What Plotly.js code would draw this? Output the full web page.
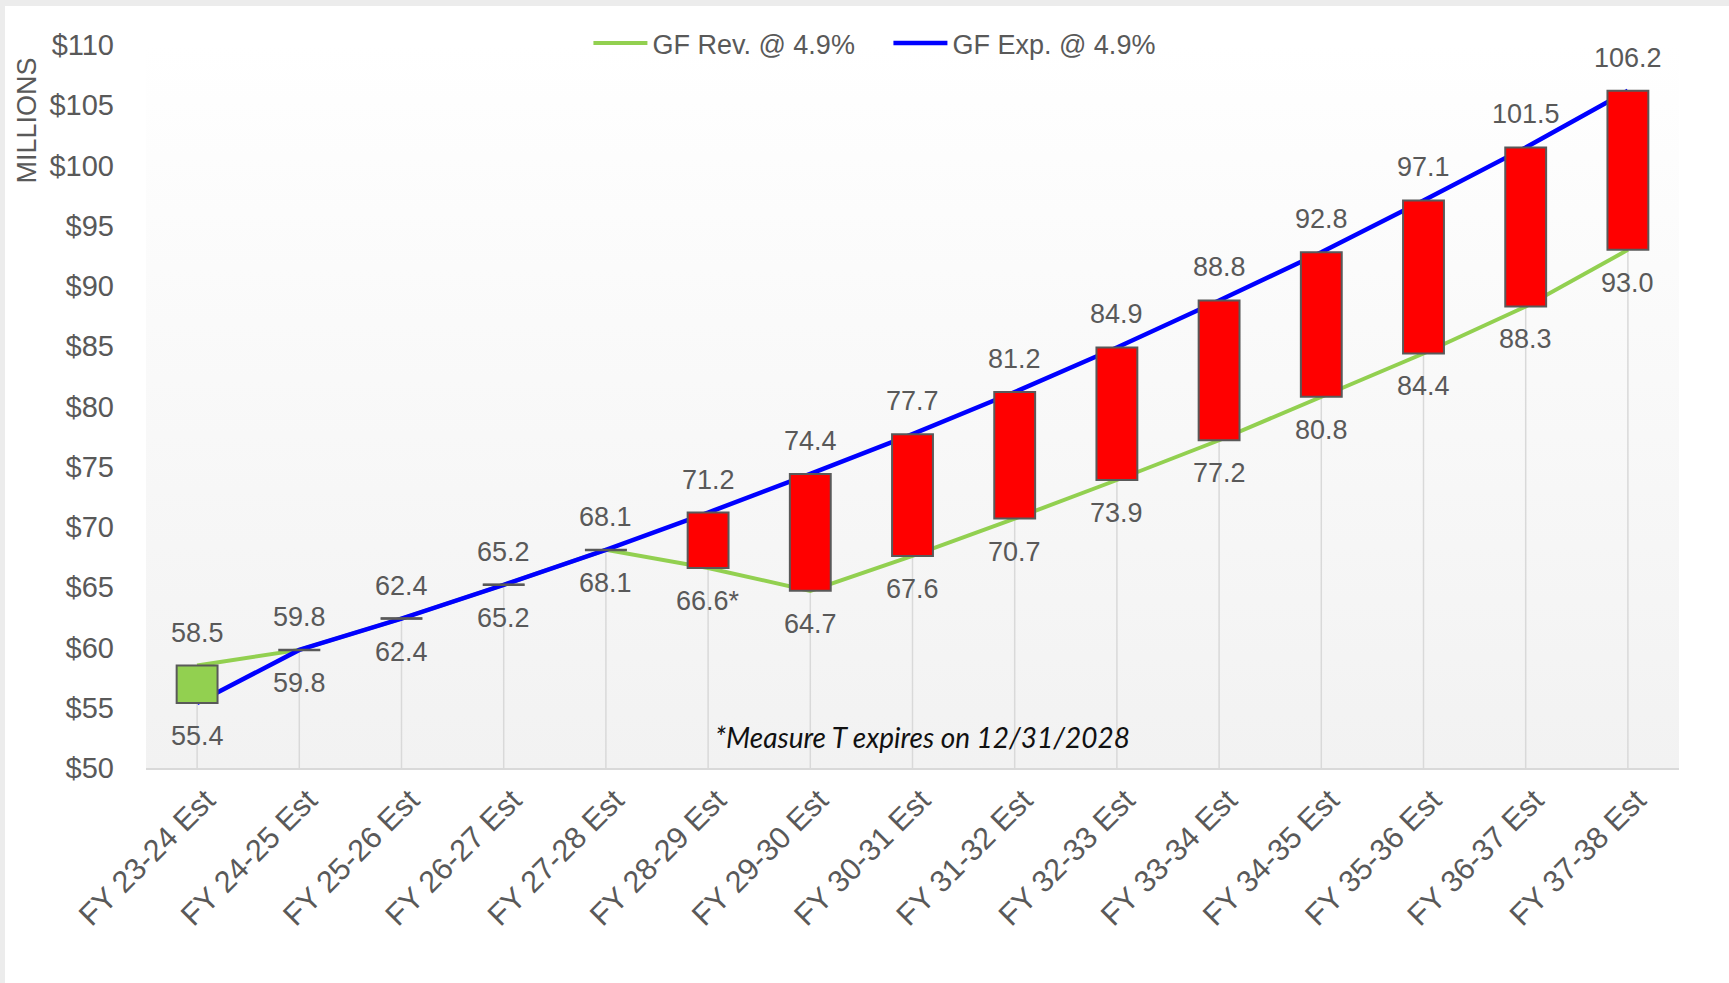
<!DOCTYPE html>
<html><head><meta charset="utf-8">
<script src="https://cdn.plot.ly/plotly-3.0.1.min.js"></script>
<style>
html,body{margin:0;padding:0;background:#ececec;width:1729px;height:983px;overflow:hidden}
#chart{position:absolute;left:5px;top:6px;width:1724px;height:977px;background:#ffffff}
</style>
</head><body><div id="chart"></div>
<script>
const categories = ['FY 23-24 Est','FY 24-25 Est','FY 25-26 Est','FY 26-27 Est','FY 27-28 Est','FY 28-29 Est','FY 29-30 Est','FY 30-31 Est','FY 31-32 Est','FY 32-33 Est','FY 33-34 Est','FY 34-35 Est','FY 35-36 Est','FY 36-37 Est','FY 37-38 Est'];
const revenue = [58.5, 59.8, 62.4, 65.2, 68.1, 66.6, 64.7, 67.6, 70.7, 73.9, 77.2, 80.8, 84.4, 88.3, 93.0];
const expense = [55.4, 59.8, 62.4, 65.2, 68.1, 71.2, 74.4, 77.7, 81.2, 84.9, 88.8, 92.8, 97.1, 101.5, 106.2];
const revenueNotes = ['', '', '', '', '', '*', '', '', '', '', '', '', '', '', ''];
const expenseNotes = ['', '', '', '', '', '', '', '', '', '', '', '', '', '', ''];
const yTickVals = [50, 55, 60, 65, 70, 75, 80, 85, 90, 95, 100, 105, 110];
const yTickText = ['$50','$55','$60','$65','$70','$75','$80','$85','$90','$95','$100','$105','$110'];
const revName = 'GF Rev. @ 4.9%';
const expName = 'GF Exp. @ 4.9%';
const yAxisTitle = 'MILLIONS';
const footnote = '*Measure T expires on 12/31/2028';

const FONT = '"Liberation Sans", Arial, sans-serif';
const GRAY = '#595959';
const yMin = yTickVals[0], yMax = yTickVals[yTickVals.length - 1];

const hi = categories.map((c, i) => Math.max(revenue[i], expense[i]));
const lo = categories.map((c, i) => Math.min(revenue[i], expense[i]));

// drop lines
const dropX = [], dropY = [];
categories.forEach((c, i) => { dropX.push(c, c, null); dropY.push(hi[i], yMin, null); });

const eqX = [], eqY = [];
categories.forEach((c, i) => { if (revenue[i] === expense[i]) { eqX.push(c); eqY.push(revenue[i]); } });

const traces = [
  {x: dropX, y: dropY, type: 'scatter', mode: 'lines', line: {color: '#d9d9d9', width: 1.5},
   showlegend: false, hoverinfo: 'skip', xaxis: 'x', yaxis: 'y'},
  {x: categories, y: revenue, type: 'scatter', mode: 'lines', name: revName,
   line: {color: '#92D050', width: 4}, xaxis: 'x', yaxis: 'y'},
  {x: categories, y: expense, type: 'scatter', mode: 'lines', name: expName,
   line: {color: '#0000FF', width: 4.5}, xaxis: 'x', yaxis: 'y'},
  {x: categories, base: lo, y: categories.map((c, i) => hi[i] - lo[i]), type: 'bar', width: 0.4,
   marker: {color: categories.map((c, i) => revenue[i] > expense[i] ? '#92D050' : '#FF0000'),
            line: {color: GRAY, width: 2}},
   showlegend: false, hoverinfo: 'skip', xaxis: 'x', yaxis: 'y2'},
  {x: eqX, y: eqY, type: 'scatter', mode: 'markers',
   marker: {symbol: 'line-ew', size: 30, color: GRAY, line: {color: GRAY, width: 2.5}},
   showlegend: false, hoverinfo: 'skip', xaxis: 'x', yaxis: 'y2'}
];

const annotations = [];
categories.forEach((c, i) => {
  const topTxt = (expense[i] >= revenue[i]) ? expense[i].toFixed(1) + expenseNotes[i] : revenue[i].toFixed(1) + revenueNotes[i];
  const botTxt = (expense[i] >= revenue[i]) ? revenue[i].toFixed(1) + revenueNotes[i] : expense[i].toFixed(1) + expenseNotes[i];
  annotations.push({x: c, y: hi[i], xref: 'x', yref: 'y', text: topTxt, showarrow: false,
    yanchor: 'middle', yshift: 33, font: {family: FONT, size: 27, color: GRAY}});
  annotations.push({x: c, y: lo[i], xref: 'x', yref: 'y', text: botTxt, showarrow: false,
    yanchor: 'middle', yshift: -33, font: {family: FONT, size: 27, color: GRAY}});
});
annotations.push({text: yAxisTitle, xref: 'paper', yref: 'paper', x: -0.0776, y: 0.8957,
  xanchor: 'center', yanchor: 'middle', textangle: -90, showarrow: false,
  font: {family: FONT, size: 27, color: GRAY}});
annotations.push({text: '<i>' + footnote + '</i>', xref: 'paper', yref: 'paper', x: 0.5062, y: 0.0425,
  xanchor: 'center', yanchor: 'middle', showarrow: false,
  font: {family: 'Lato, "Open Sans", sans-serif', size: 28, color: '#111111'}});

const svg = "<svg xmlns='http://www.w3.org/2000/svg' width='100' height='100' viewBox='0 0 100 100' preserveAspectRatio='none'><defs><linearGradient id='g' x1='0' y1='0' x2='0' y2='1'><stop offset='0' stop-color='#ffffff'/><stop offset='1' stop-color='#f2f2f2'/></linearGradient></defs><rect x='0' y='0' width='100' height='100' fill='url(#g)'/></svg>";

const layout = {
  width: 1724, height: 977,
  margin: {l: 141, r: 50, t: 38.5, b: 215, pad: 0},
  paper_bgcolor: '#ffffff', plot_bgcolor: 'rgba(0,0,0,0)',
  showlegend: true,
  legend: {orientation: 'h', x: 0.2886, xanchor: 'left', y: 1.002, yanchor: 'middle',
    font: {family: FONT, size: 27, color: GRAY}, itemwidth: 54, entrywidth: 231, entrywidthmode: 'pixels',
    bgcolor: 'rgba(0,0,0,0)'},
  images: [{source: 'data:image/svg+xml;charset=utf-8,' + encodeURIComponent(svg),
    xref: 'paper', yref: 'paper', x: 0, y: 1, sizex: 1, sizey: 1, xanchor: 'left', yanchor: 'top',
    sizing: 'stretch', layer: 'below'}],
  xaxis: {type: 'category', categoryarray: categories, range: [-0.5, categories.length - 0.5],
    showgrid: false, zeroline: false, showline: true, linecolor: '#d9d9d9', linewidth: 2,
    ticks: '', tickangle: -45, ticklabelshift: 9, tickfont: {family: FONT, size: 30.5, color: GRAY}, fixedrange: true},
  yaxis: {range: [yMin, yMax], tickvals: yTickVals, ticktext: yTickText, showgrid: false, zeroline: false,
    showline: false, ticks: '', ticklabelstandoff: 31, tickfont: {family: FONT, size: 29, color: GRAY}, fixedrange: true},
  yaxis2: {range: [yMin, yMax], overlaying: 'y', visible: false, fixedrange: true},
  annotations: annotations,
  hovermode: false
};

Plotly.newPlot('chart', traces, layout, {displayModeBar: false, staticPlot: true});
</script></body></html>
